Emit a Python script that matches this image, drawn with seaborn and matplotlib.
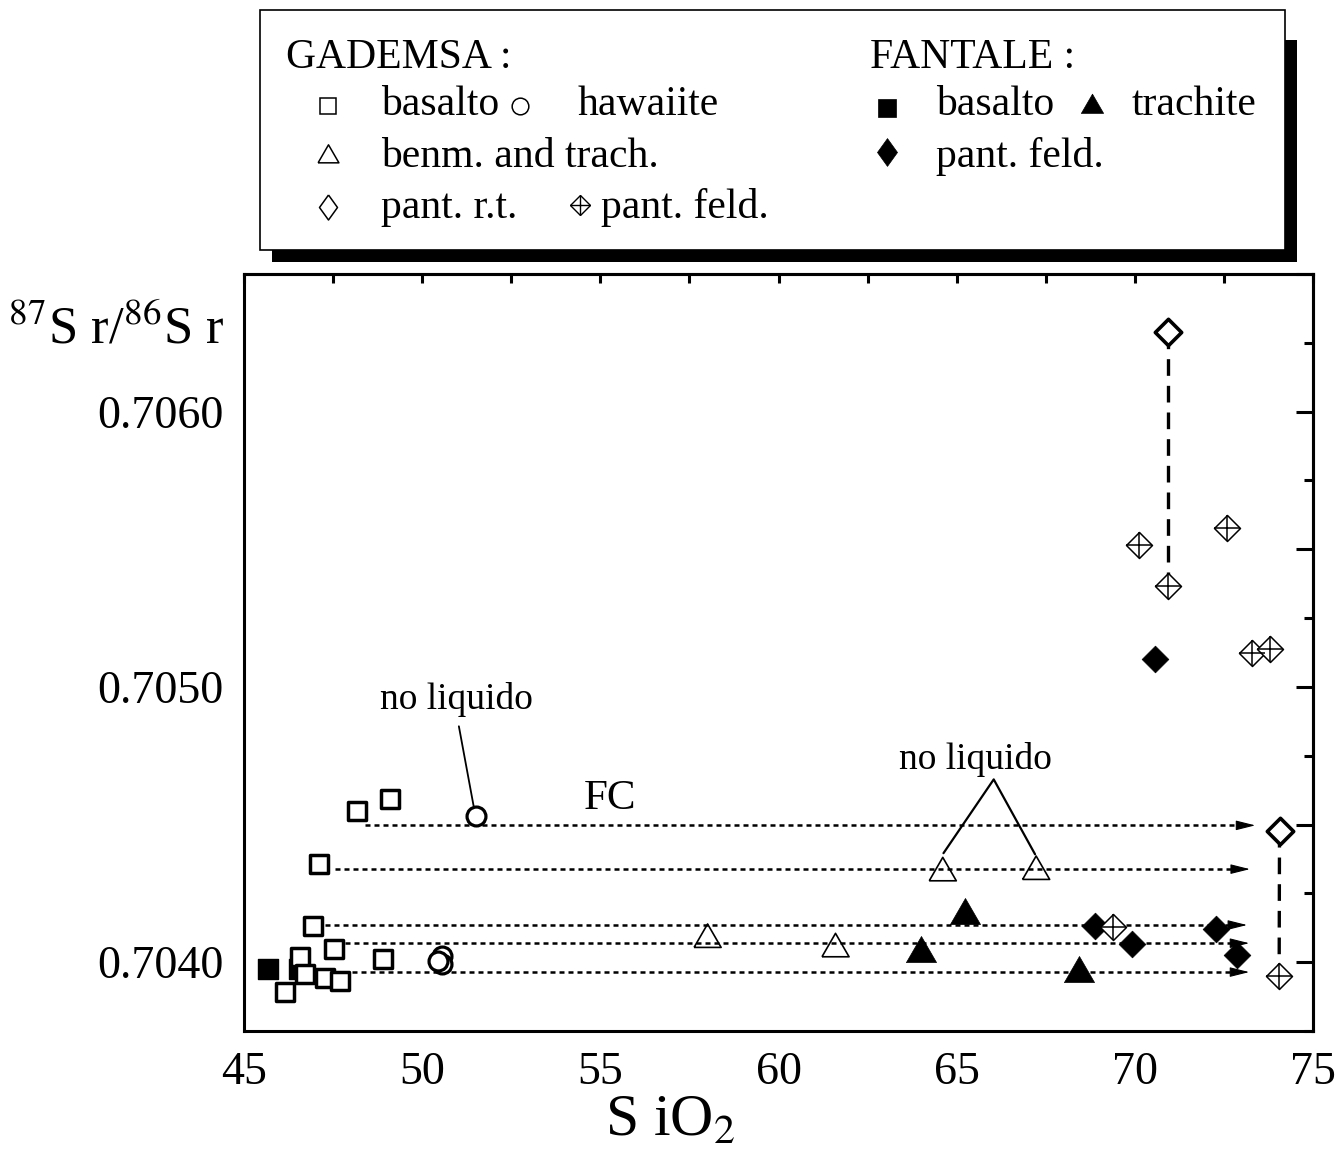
import numpy as np
import pandas as pd
import matplotlib
matplotlib.use("Agg")
import matplotlib.pyplot as plt
import seaborn as sns
from matplotlib.lines import Line2D
from matplotlib.patches import Rectangle
from matplotlib.ticker import MultipleLocator, FuncFormatter, NullLocator

# ---- SiO2 (wt%) and 87Sr/86Sr for each rock group ----
gad_basalt_sio2 = [48.16, 49.10, 47.10, 46.93, 47.53, 46.57, 46.15, 47.27, 47.69, 48.90, 46.71]
gad_basalt_sr = [0.704549, 0.704592, 0.704356, 0.704132, 0.704047, 0.704018,
                 0.703891, 0.703942, 0.703932, 0.704011, 0.703956]
gad_hawaiite_sio2 = [51.51, 50.55, 50.55, 50.44]
gad_hawaiite_sr = [0.704530, 0.704023, 0.703993, 0.704004]
gad_benm_sio2 = [58.01, 61.60, 64.61, 67.23]
gad_benm_sr = [0.704093, 0.704059, 0.704335, 0.704340]
gad_pant_rt_sio2 = [70.93, 74.06]
gad_pant_rt_sr = [0.706290, 0.704477]
gad_pant_feld_sio2 = [69.40, 74.05, 70.12, 70.93, 72.59, 73.29, 73.80]
gad_pant_feld_sr = [0.704126, 0.703950, 0.705514, 0.705365, 0.705579, 0.705125, 0.705136]
fan_basalt_sio2 = [45.67, 46.54]
fan_basalt_sr = [0.703975, 0.703975]
fan_trachyte_sio2 = [63.99, 65.24, 68.42]
fan_trachyte_sr = [0.704045, 0.704183, 0.703972]
fan_pant_feld_sio2 = [68.88, 69.91, 72.28, 72.88, 70.57]
fan_pant_feld_sr = [0.704132, 0.704065, 0.704122, 0.704026, 0.705100]

# fractional-crystallisation paths (FC): level, start and arrow tip
fc_sr = [0.704497, 0.704338, 0.704135, 0.704069, 0.703964]
fc_start = [48.40, 47.55, 47.27, 47.83, 48.03]
fc_tip = [73.38, 73.23, 73.15, 73.21, 73.21]

# whole rock -> feldspar tie lines (pant. r.t. to pant. feld.)
tie_sio2 = [(70.93, 70.93), (74.06, 74.05)]
tie_sr = [(0.706290, 0.705365), (0.704477, 0.703950)]

groups = {
    "fan_basalt": (fan_basalt_sio2, fan_basalt_sr),
    "gad_basalt": (gad_basalt_sio2, gad_basalt_sr),
    "gad_hawaiite": (gad_hawaiite_sio2, gad_hawaiite_sr),
    "gad_benm": (gad_benm_sio2, gad_benm_sr),
    "fan_trachyte": (fan_trachyte_sio2, fan_trachyte_sr),
    "fan_pant_feld": (fan_pant_feld_sio2, fan_pant_feld_sr),
    "gad_pant_feld": (gad_pant_feld_sio2, gad_pant_feld_sr),
    "gad_pant_rt": (gad_pant_rt_sio2, gad_pant_rt_sr),
}
df = pd.concat(
    [pd.DataFrame({"SiO2": x, "Sr": y, "group": g}) for g, (x, y) in groups.items()],
    ignore_index=True,
)

tri = [(-1.0, -0.8), (1.0, -0.8), (0.0, 0.93), (-1.0, -0.8)]
tall_diamond = [(0, 1), (0.72, 0), (0, -1), (-0.72, 0), (0, 1)]

styles = {
    "fan_basalt": dict(marker="s", s=215, color="black", edgecolor="black", linewidth=1),
    "gad_basalt": dict(marker="s", s=160, facecolor="white", edgecolor="black", linewidth=2.5),
    "gad_hawaiite": dict(marker="o", s=185, facecolor="white", edgecolor="black", linewidth=2.3),
    "gad_benm": dict(marker=tri, s=380, facecolor="none", edgecolor="black", linewidth=1.2),
    "fan_trachyte": dict(marker=tri, s=470, color="black", edgecolor="black", linewidth=0.5),
    "fan_pant_feld": dict(marker="D", s=185, color="black", edgecolor="black", linewidth=0.5),
    "gad_pant_feld": dict(marker="D", s=175, facecolor="white", edgecolor="black", linewidth=1.1),
    "gad_pant_rt": dict(marker="D", s=180, facecolor="white", edgecolor="black", linewidth=2.6),
}

sns.set_theme(style="white")
plt.rcParams["font.family"] = ["Liberation Serif", "DejaVu Serif"]
plt.rcParams["mathtext.fontset"] = "stix"
plt.rcParams["axes.edgecolor"] = "black"
plt.rcParams["xtick.color"] = "black"
plt.rcParams["ytick.color"] = "black"
plt.rcParams["text.color"] = "black"

W, H = 1337, 1153
fig = plt.figure(figsize=(W / 100, H / 100), dpi=100)
ax = fig.add_axes([244 / W, 1 - 1031 / H, (1313 - 244) / W, (1031 - 274) / H])


def fx(px):
    return px / W


def fy(py):
    return 1 - py / H


# FC dotted paths with arrow heads
for y, x0, x1 in zip(fc_sr, fc_start, fc_tip):
    ax.plot([x0, x1 - 0.3], [y, y], color="black", lw=1.8,
            linestyle=(0, (2.0, 1.6)), zorder=1)
    ax.annotate("", xy=(x1, y), xytext=(x1 - 0.45, y),
                arrowprops=dict(arrowstyle="-|>,head_length=1.2,head_width=0.3",
                                color="black", lw=0.8, shrinkA=0, shrinkB=0,
                                mutation_scale=10), zorder=2)

# dashed tie lines
for xs, ys in zip(tie_sio2, tie_sr):
    ax.plot(xs, ys, color="black", lw=2.4, linestyle=(0, (5, 3)), zorder=1)

# data points
for g in groups:
    sub = df[df["group"] == g]
    sns.scatterplot(data=sub, x="SiO2", y="Sr", ax=ax, legend=False,
                    zorder=3, **styles[g])
    if g == "gad_pant_feld":
        sns.scatterplot(data=sub, x="SiO2", y="Sr", ax=ax, legend=False,
                        marker="+", s=330, color="black", linewidth=1.1, zorder=4)

# annotations
ax.text(50.95, 0.704955, "no liquido", ha="center", va="center", fontsize=27)
ax.plot([51.03, 51.45], [0.704857, 0.704563], color="black", lw=1.3, zorder=2)
ax.text(65.52, 0.704737, "no liquido", ha="center", va="center", fontsize=27)
ax.plot([64.63, 66.04, 67.20], [0.704396, 0.704664, 0.704392], color="black", lw=1.6, zorder=2)
ax.text(55.27, 0.704592, "FC", ha="center", va="center", fontsize=31)

# axes, ticks
ax.set_xlim(45, 75)
ax.set_ylim(0.70375, 0.7065)
ax.set_xlabel("")
ax.set_ylabel("")
ax.grid(False)
for sp in ax.spines.values():
    sp.set_linewidth(2.2)
    sp.set_color("black")
ax.xaxis.set_major_locator(MultipleLocator(5))
ax.xaxis.set_minor_locator(MultipleLocator(2.5))
ax.yaxis.set_major_locator(MultipleLocator(0.0005))
ax.yaxis.set_minor_locator(MultipleLocator(0.00025))
ax.yaxis.set_major_formatter(FuncFormatter(
    lambda v, p: f"{v:.4f}" if abs(v * 1000 - round(v * 1000)) < 1e-6 else ""))
ax.xaxis.set_major_formatter(FuncFormatter(lambda v, p: f"{v:.0f}"))
ax.tick_params(which="major", direction="out", length=11.5, width=2.2,
               labelsize=33, pad=3, top=False, right=False)
ax.tick_params(which="minor", direction="out", length=6.5, width=2.2,
               top=False, right=False)

secx = ax.secondary_xaxis("top")
secx.xaxis.set_major_locator(MultipleLocator(2.5))
secx.xaxis.set_minor_locator(NullLocator())
secx.tick_params(direction="in", length=6.5, width=2.2, labeltop=False)
secx.spines["top"].set_linewidth(2.2)

secy = ax.secondary_yaxis("right")
secy.yaxis.set_major_locator(MultipleLocator(0.0005))
secy.yaxis.set_minor_locator(MultipleLocator(0.00025))
secy.tick_params(which="major", direction="in", length=12, width=2.2, labelright=False)
secy.tick_params(which="minor", direction="in", length=6.5, width=2.2, labelright=False)
secy.spines["right"].set_linewidth(2.2)

# axis titles
fig.text(fx(8), fy(343), r"$^{87}$S r/$^{86}$S r", fontsize=38, ha="left", va="baseline")
fig.text(fx(670), fy(1136), r"S iO$_2$", fontsize=43, ha="center", va="baseline")

# key box with drop shadow
fig.add_artist(Rectangle((fx(272), fy(262)), fx(1297) - fx(272), fy(40) - fy(262),
                         transform=fig.transFigure, facecolor="black",
                         edgecolor="none", zorder=5))
fig.add_artist(Rectangle((fx(260), fy(250)), fx(1285) - fx(260), fy(10) - fy(250),
                         transform=fig.transFigure, facecolor="white",
                         edgecolor="black", linewidth=1.2, zorder=6))

key_font = 30
fig.text(fx(286), fy(68), "GADEMSA :", fontsize=key_font, va="baseline", zorder=7)
fig.text(fx(870), fy(68), "FANTALE :", fontsize=key_font, va="baseline", zorder=7)

key_rows = [
    ("basalto", 381, 115), ("hawaiite", 578, 115), ("benm. and trach.", 381, 167),
    ("pant. r.t.", 381, 218), ("pant. feld.", 601, 218),
    ("basalto", 936, 115), ("trachite", 1132, 115), ("pant. feld.", 936, 167),
]
for label, x, y in key_rows:
    fig.text(fx(x), fy(y), label, fontsize=key_font, va="baseline", zorder=7)

key_marks = [
    dict(xy=(328, 106), marker="s", ms=11.5, mfc="white", mec="black", mew=1.1),
    dict(xy=(520, 106), marker="o", ms=12, mfc="white", mec="black", mew=1.1),
    dict(xy=(328, 154), marker=tri, ms=15, mfc="white", mec="black", mew=1.1),
    dict(xy=(328, 207), marker=tall_diamond, ms=18, mfc="white", mec="black", mew=1.1),
    dict(xy=(580, 205), marker="D", ms=10, mfc="white", mec="black", mew=1.0),
    dict(xy=(580, 205), marker="+", ms=14, mfc="none", mec="black", mew=1.0),
    dict(xy=(887, 108), marker="s", ms=12.5, mfc="black", mec="black", mew=0.5),
    dict(xy=(1092, 104), marker=tri, ms=16, mfc="black", mec="black", mew=0.5),
    dict(xy=(887, 152), marker=tall_diamond, ms=20, mfc="black", mec="black", mew=0.5),
]
for m in key_marks:
    px, py = m.pop("xy")
    fig.add_artist(Line2D([fx(px)], [fy(py)], transform=fig.transFigure,
                          linestyle="none", zorder=7, **m))

fig.savefig("out.png", dpi=100)
